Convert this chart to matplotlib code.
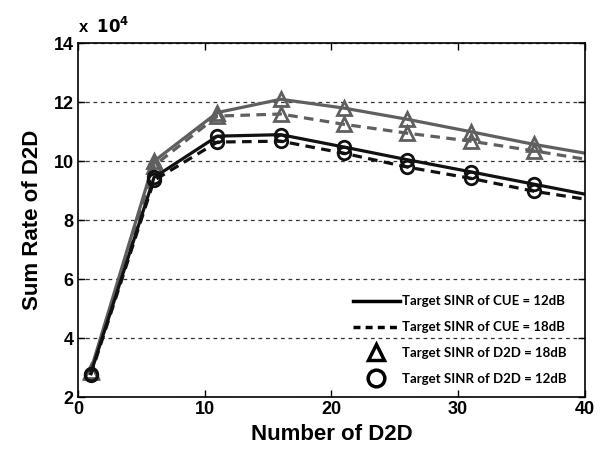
import matplotlib
matplotlib.use("Agg")
import matplotlib.pyplot as plt
from matplotlib.lines import Line2D

# number of D2D pairs (last point falls just outside the axis)
n_d2d = [1, 6, 11, 16, 21, 26, 31, 36, 41]

# sum rate (x 10^4)
cue12_d2d18 = [2.9, 10.0, 11.65, 12.1, 11.8, 11.42, 11.0, 10.57, 10.2]
cue18_d2d18 = [2.85, 9.85, 11.53, 11.6, 11.25, 10.95, 10.68, 10.35, 10.0]
cue12_d2d12 = [2.8, 9.45, 10.85, 10.9, 10.48, 10.05, 9.64, 9.22, 8.8]
cue18_d2d12 = [2.75, 9.35, 10.65, 10.68, 10.27, 9.8, 9.42, 8.98, 8.65]

yticks = [2, 4, 6, 8, 10, 12, 14]
xticks = [0, 10, 20, 30, 40]

grey = "#5f5f5f"
plt.rcParams["font.family"] = ["Liberation Sans", "DejaVu Sans"]


def main():
    fig = plt.figure(figsize=(6.07, 4.55), dpi=100)
    ax = fig.add_axes([0.1285, 0.127, 0.835, 0.778])

    ms = 10
    dash = (0, (3, 2))
    ax.plot(n_d2d, cue12_d2d18, "-", color=grey, lw=2.3, marker="^",
            ms=ms, mfc="none", mew=2)
    ax.plot(n_d2d, cue18_d2d18, ls=dash, color=grey, lw=2.3, marker="^",
            ms=ms, mfc="none", mew=2)
    ax.plot(n_d2d, cue12_d2d12, "-", color="#111111", lw=2.3, marker="o",
            ms=ms - 1, mfc="none", mew=2)
    ax.plot(n_d2d, cue18_d2d12, ls=dash, color="#111111", lw=2.3, marker="o",
            ms=ms - 1, mfc="none", mew=2)

    ax.set_xlim(0, 40)
    ax.set_ylim(2, 14)
    ax.set_xticks(xticks)
    ax.set_yticks(yticks)
    ax.tick_params(direction="in", length=5, width=1, labelsize=13,
                   top=True, right=True, pad=3)
    for lab in ax.get_xticklabels() + ax.get_yticklabels():
        lab.set_fontweight("bold")
    ax.yaxis.grid(True, linestyle=(0, (3, 3)), color="#333333", lw=0.9)
    for sp in ax.spines.values():
        sp.set_linewidth(1.2)

    ax.set_xlabel("Number of D2D", fontsize=16, fontweight="bold", labelpad=4)
    ax.set_ylabel("Sum Rate of D2D", fontsize=16, fontweight="bold", labelpad=8)
    ax.text(0.0, 1.02, r"x  $\mathbf{10^{4}}$", transform=ax.transAxes,
            fontsize=12, fontweight="bold", ha="left", va="bottom")

    handles = [
        Line2D([], [], color="black", lw=2.5, ls="-"),
        Line2D([], [], color="black", lw=2.5, ls=(0, (2, 1.5))),
        Line2D([], [], color="black", lw=0, marker="^", ms=12, mfc="none", mew=2.5),
        Line2D([], [], color="black", lw=0, marker="o", ms=12, mfc="none", mew=2.5),
    ]
    labels = ["Target SINR of CUE = 12dB", "Target SINR of CUE = 18dB",
              "Target SINR of D2D = 18dB", "Target SINR of D2D = 12dB"]
    ax.legend(handles, labels, loc="lower right", bbox_to_anchor=(0.985, 0.005),
              frameon=False, handlelength=3.6, handletextpad=0.15,
              labelspacing=1.05, borderaxespad=0.4,
              prop={"family": ["Lato", "DejaVu Sans"], "weight": "bold", "size": 9.5})

    fig.savefig("out.png", dpi=100)


if __name__ == "__main__":
    main()
